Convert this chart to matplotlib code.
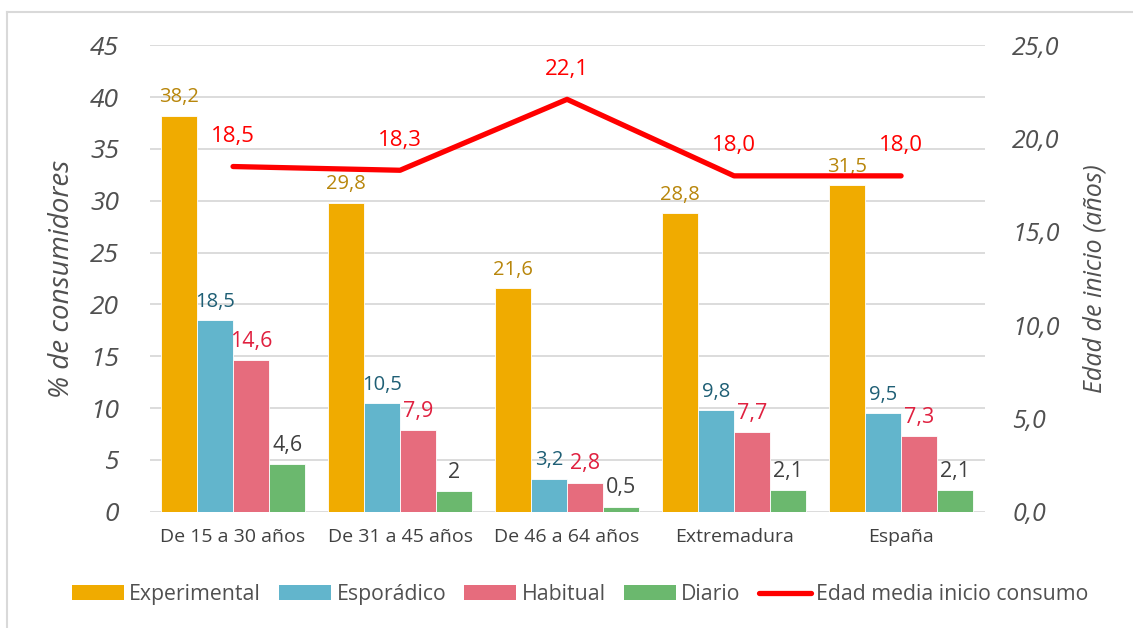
import matplotlib
matplotlib.use("Agg")
import matplotlib.pyplot as plt
import numpy as np
from matplotlib.lines import Line2D
from matplotlib.patches import Patch

categories = ["De 15 a 30 años", "De 31 a 45 años", "De 46 a 64 años", "Extremadura", "España"]
experimental = [38.2, 29.8, 21.6, 28.8, 31.5]
esporadico = [18.5, 10.5, 3.2, 9.8, 9.5]
habitual = [14.6, 7.9, 2.8, 7.7, 7.3]
diario = [4.6, 2.0, 0.5, 2.1, 2.1]
edad_media = [18.5, 18.3, 22.1, 18.0, 18.0]
series_names = ["Experimental", "Esporádico", "Habitual", "Diario"]
line_name = "Edad media inicio consumo"

plt.rcParams['font.family'] = ['Open Sans', 'DejaVu Sans']

fig = plt.figure(figsize=(11.33, 6.28), dpi=100)
ax = fig.add_axes([0.132, 0.185, 0.737, 0.743])
ax2 = ax.twinx()

bar_colors = ["#F0AB00", "#62B5CC", "#E66C7D", "#6BB86E"]
label_colors = ["#B8860B", "#1F5F75", "#E0203F", "#404040"]
data = [experimental, esporadico, habitual, diario]
x = np.arange(len(categories))
w = 0.216
for i, (vals, c, lc) in enumerate(zip(data, bar_colors, label_colors)):
    pos = x + (i - 1.5) * w
    ax.bar(pos, vals, width=w, color=c, edgecolor="white", linewidth=0.6, zorder=2)
    for p, v in zip(pos, vals):
        if i == 3 and float(v).is_integer():
            txt = str(int(v))
        else:
            txt = f"{v:.1f}".replace(".", ",")
        ax.annotate(txt, (p, v), xytext=(0, 6), textcoords="offset points",
                    ha="center", va="bottom", color=lc,
                    fontsize=14.5 if i < 2 else 15.5)

ax.set_ylim(0, 45)
ax.set_yticks(range(0, 50, 5))
ax.set_xlim(-0.5, 4.5)
ax.set_xticks(x)
ax.set_xticklabels(categories, fontsize=14, color="#404040")
ax.tick_params(axis="x", length=0, pad=12)
ax.tick_params(axis="y", length=0, pad=22, labelsize=19, labelcolor="#505050")
for t in ax.get_yticklabels():
    t.set_style("italic")
ax.grid(axis="y", color="#D9D9D9", linewidth=1.3, zorder=0)
ax.set_axisbelow(True)
for s in ax.spines.values():
    s.set_visible(False)
ax.set_ylabel("% de consumidores", fontsize=20, style="italic", color="#505050", labelpad=10)

ax2.plot(x, edad_media, color="#FF0000", linewidth=3.8, solid_capstyle="round", zorder=5)
for xi, v in zip(x, edad_media):
    ax2.annotate(f"{v:.1f}".replace(".", ","), (xi, v), xytext=(0, 14), textcoords="offset points",
                 ha="center", va="bottom", color="#FF0000", fontsize=16)
ax2.set_ylim(0, 25)
ax2.set_yticks(np.arange(0, 30, 5))
ax2.set_yticklabels([f"{v:.1f}".replace(".", ",") for v in np.arange(0, 30, 5)])
ax2.tick_params(axis="y", length=0, pad=20, labelsize=18, labelcolor="#505050")
for t in ax2.get_yticklabels():
    t.set_style("italic")
for s in ax2.spines.values():
    s.set_visible(False)
ax2.set_ylabel("Edad de inicio (años)", fontsize=18, style="italic", color="#505050", labelpad=16)

handles = [Patch(facecolor=c, edgecolor="none") for c in bar_colors]
handles.append(Line2D([0], [0], color="#FF0000", linewidth=3.8, solid_capstyle="round"))
leg = fig.legend(handles, series_names + [line_name], loc="center", bbox_to_anchor=(0.512, 0.053),
                 ncol=5, frameon=False, fontsize=15.3, handlelength=2.45, handleheight=0.7,
                 handletextpad=0.25, columnspacing=0.85)
for t in leg.get_texts():
    t.set_color("#505050")

fig.add_artist(Line2D([7/1133, 1.0], [1 - 12/628, 1 - 12/628], color="#D9D9D9", linewidth=1.5))
fig.add_artist(Line2D([7/1133, 7/1133], [0, 1 - 12/628], color="#D9D9D9", linewidth=1.5))

fig.savefig("out.png", dpi=100, facecolor="white")
